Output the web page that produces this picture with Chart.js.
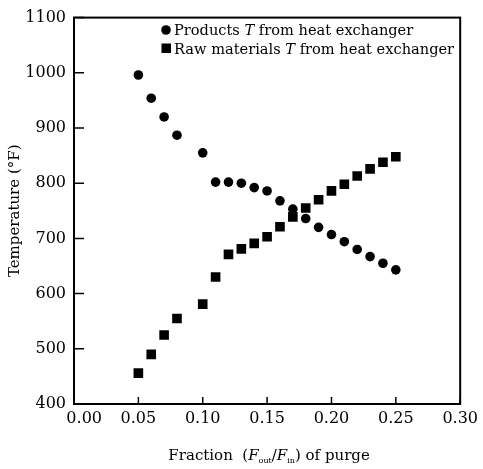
<!DOCTYPE html>
<html lang="en">
<head>
<meta charset="UTF-8">
<title>Temperature vs fraction of purge</title>
<script src="https://cdn.jsdelivr.net/npm/chart.js"></script>
<style>
  body { margin: 0; background: #fff; }
  canvas { display: block; }
</style>
</head>
<body>
<canvas id="purgeChart" width="483" height="469"></canvas>
<script>
// values
const purgeFraction = [0.05, 0.06, 0.07, 0.08, 0.10, 0.11, 0.12, 0.13, 0.14, 0.15,
                       0.16, 0.17, 0.18, 0.19, 0.20, 0.21, 0.22, 0.23, 0.24, 0.25];
const productsTemp = [996, 954, 920, 887, 855, 802, 802, 800, 792, 786,
                      768, 753, 736, 720, 707, 694, 680, 667, 655, 643];
const rawTemp = [456, 490, 525, 555, 581, 630, 671, 681, 691, 703,
                 721, 739, 755, 770, 786, 798, 813, 826, 838, 848];
const seriesNames = ['Products', 'Raw materials'];
const xTickLabels = ['0.00', '0.05', '0.10', '0.15', '0.20', '0.25', '0.30'];
const yTickLabels = ['400', '500', '600', '700', '800', '900', '1000', '1100'];

const SERIF = "'DejaVu Serif', 'Liberation Serif', serif";
Chart.defaults.font.family = SERIF;
Chart.defaults.color = '#000';

function toPoints(ys) {
    return purgeFraction.map((x, i) => ({ x: x, y: ys[i] }));
}

// frame, inward tick marks, legend and x title (with subscripts)
const decorations = {
    id: 'decorations',
    afterDraw(chart) {
        const ctx = chart.ctx;
        const area = chart.chartArea;
        const xs = chart.scales.x;
        const ys = chart.scales.y;
        ctx.save();
        ctx.strokeStyle = '#000';
        ctx.lineWidth = 2;
        ctx.strokeRect(area.left, area.top, area.right - area.left, area.bottom - area.top);

        ctx.lineWidth = 1.5;
        ctx.beginPath();
        xs.ticks.forEach(t => {
            const px = xs.getPixelForValue(t.value);
            ctx.moveTo(px, area.bottom);
            ctx.lineTo(px, area.bottom - 7);
        });
        ys.ticks.forEach(t => {
            const py = ys.getPixelForValue(t.value);
            ctx.moveTo(area.left, py);
            ctx.lineTo(area.left + 10, py);
        });
        ctx.stroke();

        // legend
        ctx.fillStyle = '#000';
        ctx.beginPath();
        ctx.arc(166, 30, 4.8, 0, Math.PI * 2);
        ctx.fill();
        ctx.fillRect(161.5, 43.5, 9.5, 9.5);
        const rows = [[seriesNames[0], 35], [seriesNames[1], 53.5]];
        rows.forEach(([name, y]) => {
            let x = 174;
            const parts = [[name + ' ', '14.6px ' + SERIF], ['T', 'italic 14.6px ' + SERIF],
                           [' from heat exchanger', '14.6px ' + SERIF]];
            ctx.textBaseline = 'alphabetic';
            ctx.textAlign = 'left';
            parts.forEach(([s, f]) => {
                ctx.font = f;
                ctx.fillText(s, x, y);
                x += ctx.measureText(s).width;
            });
        });

        // x axis title
        const big = '15px ' + SERIF, ital = 'italic 15px ' + SERIF, small = '8px ' + SERIF;
        const pieces = [['Fraction  (', big, 0], ['F', ital, 0], ['out', small, 3],
                        ['/', big, 0], ['F', ital, 0], ['in', small, 3], [') of purge', big, 0]];
        let total = 0;
        pieces.forEach(([s, f]) => { ctx.font = f; total += ctx.measureText(s).width; });
        let x = (area.left + area.right) / 2 + 2 - total / 2;
        pieces.forEach(([s, f, dy]) => {
            ctx.font = f;
            ctx.fillText(s, x, 460 + dy);
            x += ctx.measureText(s).width;
        });
        ctx.restore();
    }
};

new Chart(document.getElementById('purgeChart'), {
    type: 'scatter',
    data: {
        datasets: [{
            label: seriesNames[0],
            data: toPoints(productsTemp),
            pointStyle: 'circle',
            pointRadius: 4.8,
            backgroundColor: '#000',
            borderColor: '#000',
            borderWidth: 0
        }, {
            label: seriesNames[1],
            data: toPoints(rawTemp),
            pointStyle: 'rect',
            pointRadius: 6.8,
            backgroundColor: '#000',
            borderColor: '#000',
            borderWidth: 0
        }]
    },
    options: {
        responsive: false,
        animation: false,
        layout: { padding: { top: 10, right: 21, left: 0, bottom: 0 } },
        plugins: {
            legend: { display: false },
            tooltip: { enabled: false }
        },
        scales: {
            x: {
                type: 'linear',
                min: 0,
                max: 0.3,
                grid: { display: false, drawTicks: false },
                border: { display: false },
                ticks: {
                    stepSize: 0.05,
                    autoSkip: false,
                    maxRotation: 0,
                    padding: 5,
                    font: { size: 16 },
                    // first label sits right of the corner, clear of "400"
                    callback: (v, i) => (i === 0 ? '    ' : '') + xTickLabels[i]
                },
                afterFit: s => { s.height = 65; }
            },
            y: {
                min: 400,
                max: 1100,
                grid: { display: false, drawTicks: false },
                border: { display: false },
                ticks: {
                    stepSize: 100,
                    padding: 8,
                    font: { size: 16 },
                    callback: (v, i) => yTickLabels[i]
                },
                title: {
                    display: true,
                    text: 'Temperature (°F)',
                    font: { size: 15 },
                    padding: { top: 6, bottom: 0 }
                },
                afterFit: s => { s.width = 74; }
            }
        }
    },
    plugins: [decorations]
});
</script>
</body>
</html>
